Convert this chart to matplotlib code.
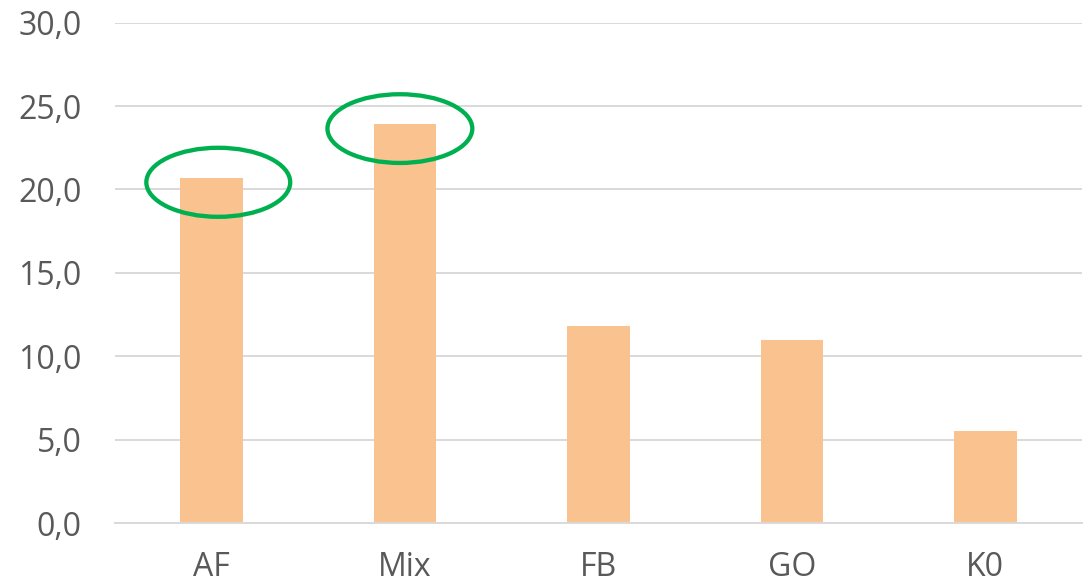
import matplotlib.pyplot as plt
from matplotlib.patches import Ellipse
from matplotlib.ticker import FuncFormatter, MultipleLocator

categories = ['AF', 'Mix', 'FB', 'GO', 'K0']
values = [20.7, 23.9, 11.8, 11.0, 5.5]

# highlighted bars: (x centre, y centre, width, height) in data units
highlights = [(0.034, 20.43, 0.744, 4.14),
              (0.973, 23.65, 0.749, 4.12)]

plt.rcParams['font.family'] = ['Open Sans', 'DejaVu Sans']

fig = plt.figure(figsize=(10.84, 5.84), dpi=100)
ax = fig.add_axes([115 / 1084, 61 / 584, 967 / 1084, 500.3 / 584])

x = range(len(categories))
ax.bar(x, values, width=0.324, color='#F9C28F', zorder=2)

for cx, cy, w, h in highlights:
    ax.add_patch(Ellipse((cx, cy), w, h, fill=False, edgecolor='#00B050',
                         linewidth=3.1, zorder=3, clip_on=False))

ax.set_xlim(-0.5, len(categories) - 0.5)
ax.set_ylim(0, 30)
ax.yaxis.set_major_locator(MultipleLocator(5))
ax.yaxis.set_major_formatter(FuncFormatter(lambda v, _: f'{v:.1f}'.replace('.', ',')))
ax.set_xticks(list(x))
ax.set_xticklabels(categories)

ax.grid(axis='y', color='#D9D9D9', linewidth=1.4, zorder=0)
for side in ['top', 'right', 'left']:
    ax.spines[side].set_visible(False)
ax.spines['bottom'].set_color('#D9D9D9')
ax.spines['bottom'].set_linewidth(1.4)

ax.tick_params(axis='both', length=0, labelsize=23, labelcolor='#595959')
ax.tick_params(axis='y', pad=24)
ax.tick_params(axis='x', pad=20)

fig.savefig('out.png', dpi=100)
